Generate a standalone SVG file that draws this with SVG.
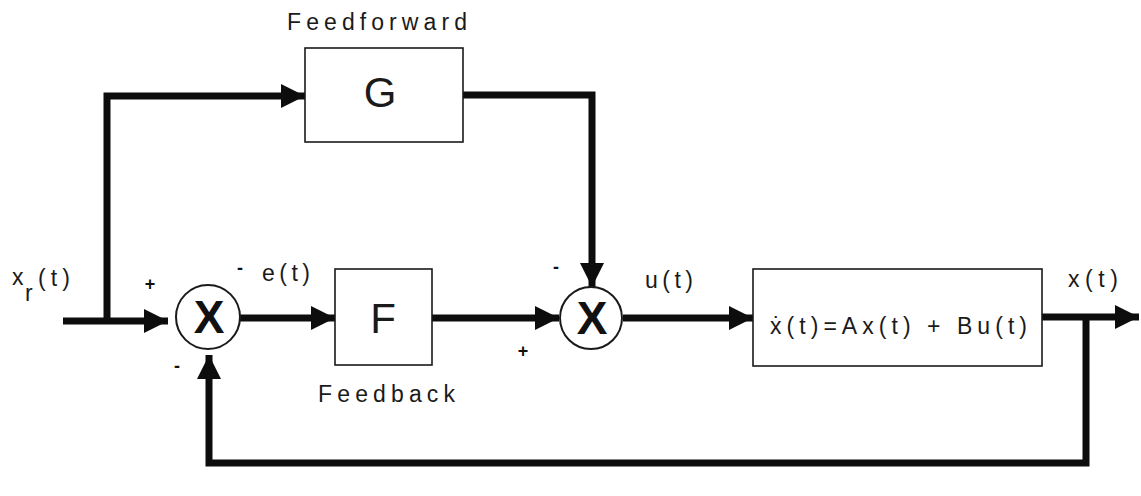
<svg xmlns="http://www.w3.org/2000/svg" width="1141" height="496" viewBox="0 0 1141 496">
<style>
.box{fill:none;stroke:#1a1a1a;stroke-width:1.6}
.sum{fill:#fff;stroke:#1a1a1a;stroke-width:2}
.wire{fill:none;stroke:#0d0d0d;stroke-width:7;stroke-linejoin:miter}
.t{font-family:"Liberation Sans",Arial,sans-serif;fill:#1a1a1a;font-size:23px}
.big{font-family:"Liberation Sans",Arial,sans-serif;fill:#1a1a1a;font-size:42px;text-anchor:middle}
.x{font-family:"Liberation Sans",Arial,sans-serif;fill:#111;font-size:46px;font-weight:bold;text-anchor:middle}
.s{font-family:"Liberation Sans",Arial,sans-serif;fill:#111;font-size:18px;font-weight:bold;text-anchor:middle}
</style>
<defs>
<marker id="ah" markerUnits="userSpaceOnUse" markerWidth="24" markerHeight="24" refX="22" refY="11" orient="auto" viewBox="0 0 22 22">
<path d="M0,0 L22,11 L0,22 z" fill="#0d0d0d"/>
</marker>
</defs>
<rect width="1141" height="496" fill="#fff"/>
<g id="connectors">
<path class="wire" d="M63,321 H168" marker-end="url(#ah)"/>
<path class="wire" d="M107,321 V96 H305" marker-end="url(#ah)"/>
<path class="wire" d="M463,95 H592 V287" marker-end="url(#ah)"/>
<path class="wire" d="M240,318 H335" marker-end="url(#ah)"/>
<path class="wire" d="M432,318 H559" marker-end="url(#ah)"/>
<path class="wire" d="M623,318 H753" marker-end="url(#ah)"/>
<path class="wire" d="M1042,317 H1139" marker-end="url(#ah)"/>
<path class="wire" d="M1086,317 V463 H209 V355" marker-end="url(#ah)"/>
</g>
<g id="G">
<rect class="box" x="305" y="48" width="158" height="94"/>
<text class="big" x="380" y="107">G</text>
<text class="t" x="287" y="30" textLength="180" font-size="25">Feedforward</text>
</g>
<g id="F">
<rect class="box" x="335" y="269" width="97" height="96"/>
<text class="big" x="383" y="333">F</text>
<text class="t" x="318" y="402" textLength="137" font-size="25">Feedback</text>
</g>
<g id="sum1">
<circle class="sum" cx="208" cy="317" r="32"/>
<text class="x" x="209" y="333">X</text>
</g>
<g id="sum2">
<circle class="sum" cx="591" cy="318" r="31"/>
<text class="x" x="592" y="334">X</text>
</g>
<g id="plant">
<rect class="box" x="753" y="269" width="289" height="97"/>
<text class="t" x="770" y="334" textLength="257" font-size="24">ẋ(t)=Ax(t)  + Bu(t)</text>
</g>
<g id="labels">
<text class="t" x="12" y="285">x</text>
<text class="t" x="25" y="301" font-size="19">r</text>
<text class="t" x="38" y="286" textLength="32">(t)</text>
<text class="s" x="150" y="290">+</text>
<text class="s" x="177" y="372">-</text>
<text class="s" x="240" y="274">-</text>
<text class="t" x="262" y="281" textLength="48">e(t)</text>
<text class="s" x="556" y="273">-</text>
<text class="s" x="523" y="357">+</text>
<text class="t" x="645" y="288" textLength="48">u(t)</text>
<text class="t" x="1068" y="287" textLength="50">x(t)</text>
</g>
</svg>
